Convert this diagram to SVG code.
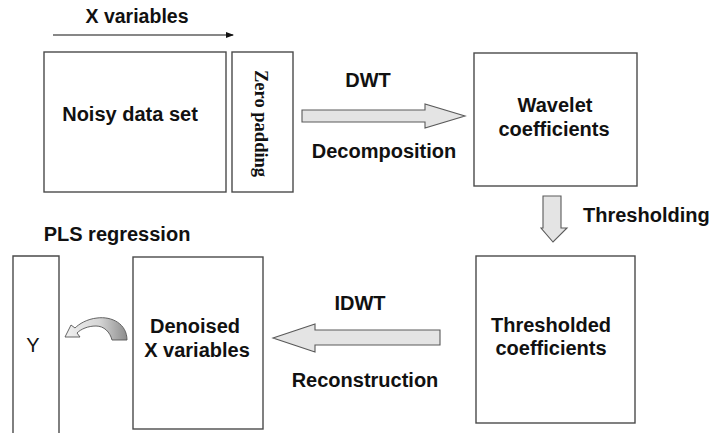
<svg xmlns="http://www.w3.org/2000/svg" width="709" height="433" viewBox="0 0 709 433">
  <style>
    .box { fill: #ffffff; stroke: #4a4a4a; stroke-width: 1.4; }
    .lbl { font-family: "Liberation Sans", Arial, sans-serif; font-size: 20px; font-weight: bold; fill: #111111; }
    .mid { text-anchor: middle; }
    .blk { fill: #e4e4e4; stroke: #5a5a5a; stroke-width: 1.1; stroke-linejoin: miter; }
    .pad { font-family: "Liberation Serif", "Times New Roman", serif; font-size: 18.5px; font-weight: bold; fill: #111111; }
  </style>
  <defs>
    <marker id="tip" markerWidth="8" markerHeight="8" refX="7" refY="4" orient="auto" markerUnits="userSpaceOnUse">
      <path d="M0,1 L8,4 L0,7 Z" fill="#111111"/>
    </marker>
    <linearGradient id="curl" x1="0" y1="0" x2="1" y2="0">
      <stop offset="0" stop-color="#f0f0f0"/>
      <stop offset="0.55" stop-color="#d6d6d6"/>
      <stop offset="1" stop-color="#8c8c8c"/>
    </linearGradient>
  </defs>
  <rect width="709" height="433" fill="#ffffff"/>

  <!-- column direction label above the data matrix -->
  <text class="lbl mid" x="137" y="23" style="font-size:19.5px">X variables</text>

  <g id="noisy-data">
    <rect class="box" x="44" y="52" width="182" height="140"/>
    <text class="lbl mid" x="130" y="121">Noisy data set</text>
  </g>

  <g id="zero-padding">
    <rect class="box" x="232" y="52" width="61" height="140"/>
    <text class="pad" transform="translate(255,70) rotate(90)">Zero padding</text>
  </g>

  <g id="wavelet-coefficients">
    <rect class="box" x="474" y="53" width="163" height="133"/>
    <text class="lbl mid" x="555" y="112">Wavelet</text>
    <text class="lbl mid" x="554" y="136">coefficients</text>
  </g>

  <g id="thresholded-coefficients">
    <rect class="box" x="476" y="256" width="159" height="167"/>
    <text class="lbl mid" x="551" y="332">Thresholded</text>
    <text class="lbl mid" x="551" y="355">coefficients</text>
  </g>

  <g id="denoised-x">
    <rect class="box" x="133" y="257" width="130" height="172"/>
    <text class="lbl mid" x="195" y="333">Denoised</text>
    <text class="lbl mid" x="197" y="357">X variables</text>
  </g>

  <g id="y-response">
    <path class="box" d="M13,433 L13,256 L59,256 L59,433" fill="none"/>
    <text class="lbl mid" x="33" y="352" style="font-weight:normal">Y</text>
  </g>

  <g id="connectors">
    <!-- X variables direction -->
    <line x1="53" y1="35" x2="233" y2="35" stroke="#111111" stroke-width="1.2" marker-end="url(#tip)"/>

    <!-- DWT: decomposition -->
    <polygon class="blk" points="302,110 425,110 425,104 465,116 425,128 425,122 302,122"/>
    <text class="lbl mid" x="368" y="87">DWT</text>
    <text class="lbl mid" x="384" y="158">Decomposition</text>

    <!-- thresholding step -->
    <polygon class="blk" points="543,196 561,196 561,228 567,228 553,242 541,228 543,228"/>
    <text class="lbl" x="583" y="222">Thresholding</text>

    <!-- IDWT: reconstruction -->
    <polygon class="blk" points="440,330 315,330 315,324 273,338 315,352 315,345 440,345"/>
    <text class="lbl mid" x="360" y="310">IDWT</text>
    <text class="lbl mid" x="365" y="387">Reconstruction</text>

    <!-- PLS regression of Y on denoised X -->
    <text class="lbl mid" x="117" y="241">PLS regression</text>
    <path d="M127,340 C127,324 112,316 97,318 C87,319 79,324 75,328 L71,325 L65,337 L80,337 L77,333 C81,329 88,326 96,326 C104,326 110,332 112,340 Z"
          fill="url(#curl)" stroke="#555555" stroke-width="0.9" stroke-linejoin="round"/>
  </g>
</svg>
